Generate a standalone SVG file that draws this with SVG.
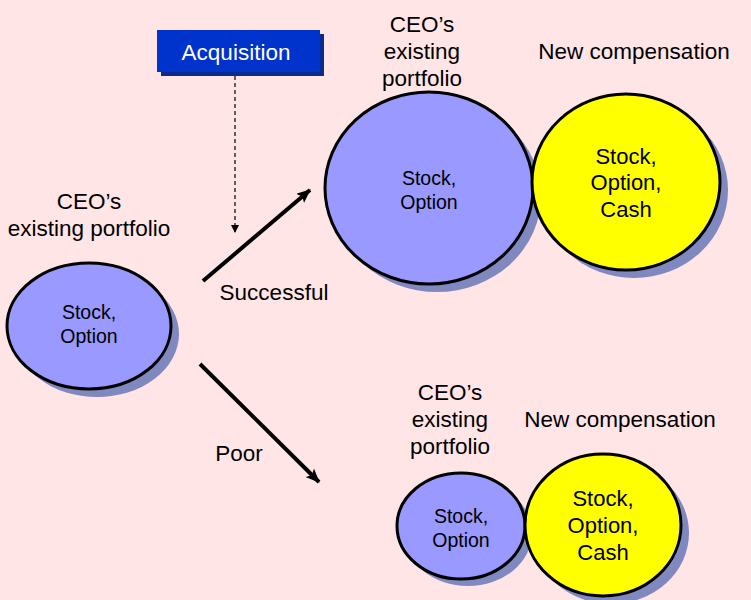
<svg xmlns="http://www.w3.org/2000/svg" width="751" height="600" viewBox="0 0 751 600">
<style>
text{font-family:"Liberation Sans",Arial,sans-serif;fill:#000;text-anchor:middle}
.lbl{font-size:22.5px}
.in{font-size:19.5px}
.iny{font-size:22px}
.blue{fill:#9999FF;stroke:#000;stroke-width:3}
.yel{fill:#FFFF00;stroke:#000;stroke-width:3}
.sh{fill:#7F88BF}
.arr{stroke:#000;stroke-width:4;fill:none;marker-end:url(#ah)}
</style>
<defs>
<marker id="ah" markerWidth="14" markerHeight="12" refX="13" refY="6" orient="auto" markerUnits="userSpaceOnUse"><path d="M0,0 L14,6 L0,12 L3,6 Z" fill="#000"/></marker>
<marker id="ahs" markerWidth="8" markerHeight="8" refX="7" refY="4" orient="auto" markerUnits="userSpaceOnUse"><path d="M0,0 L8,4 L0,8 Z" fill="#000"/></marker>
</defs>
<rect width="751" height="600" fill="#FFE5E5"/>
<g id="acquisition">
<rect x="161" y="34" width="163" height="42" fill="#0A2A8C"/>
<rect x="157" y="30" width="163" height="42" fill="#0033CC"/>
<text x="236" y="60" class="lbl" style="fill:#fff">Acquisition</text>
</g>
<g id="connectors">
<line x1="235" y1="76" x2="235" y2="232" stroke="#000" stroke-width="1.2" stroke-dasharray="4,3" marker-end="url(#ahs)"/>
<line x1="203" y1="281" x2="310" y2="190" class="arr"/>
<line x1="200" y1="364" x2="319" y2="482" class="arr"/>
<text x="274" y="300" class="lbl">Successful</text>
<text x="239" y="461" class="lbl">Poor</text>
</g>
<g id="left-portfolio">
<text x="89" y="209" class="lbl">CEO’s</text>
<text x="89" y="236" class="lbl">existing portfolio</text>
<ellipse cx="97" cy="334" rx="82" ry="63" class="sh"/>
<ellipse cx="89" cy="326" rx="82" ry="63" class="blue"/>
<text x="89" y="319" class="in">Stock,</text>
<text x="89" y="343" class="in">Option</text>
</g>
<g id="top-portfolio">
<text x="422" y="32" class="lbl">CEO’s</text>
<text x="422" y="59" class="lbl">existing</text>
<text x="422" y="86" class="lbl">portfolio</text>
<ellipse cx="437" cy="196" rx="104" ry="96" class="sh"/>
<ellipse cx="429" cy="188" rx="104" ry="96" class="blue"/>
<text x="429" y="185" class="in">Stock,</text>
<text x="429" y="209" class="in">Option</text>
</g>
<g id="top-compensation">
<text x="634" y="59" class="lbl">New compensation</text>
<ellipse cx="634" cy="190" rx="94" ry="88" class="sh"/>
<ellipse cx="626" cy="182" rx="94" ry="88" class="yel"/>
<text x="626" y="164" class="iny">Stock,</text>
<text x="626" y="190" class="iny">Option,</text>
<text x="626" y="217" class="iny">Cash</text>
</g>
<g id="bottom-portfolio">
<text x="450" y="400" class="lbl">CEO’s</text>
<text x="450" y="427" class="lbl">existing</text>
<text x="450" y="454" class="lbl">portfolio</text>
<ellipse cx="468" cy="533" rx="64" ry="53" class="sh"/>
<ellipse cx="461" cy="526" rx="64" ry="53" class="blue"/>
<text x="461" y="523" class="in">Stock,</text>
<text x="461" y="547" class="in">Option</text>
</g>
<g id="bottom-compensation">
<text x="620" y="427" class="lbl">New compensation</text>
<ellipse cx="611" cy="533" rx="78" ry="71" class="sh"/>
<ellipse cx="603" cy="525" rx="78" ry="71" class="yel"/>
<text x="603" y="506" class="iny">Stock,</text>
<text x="603" y="533" class="iny">Option,</text>
<text x="603" y="560" class="iny">Cash</text>
</g>
</svg>
